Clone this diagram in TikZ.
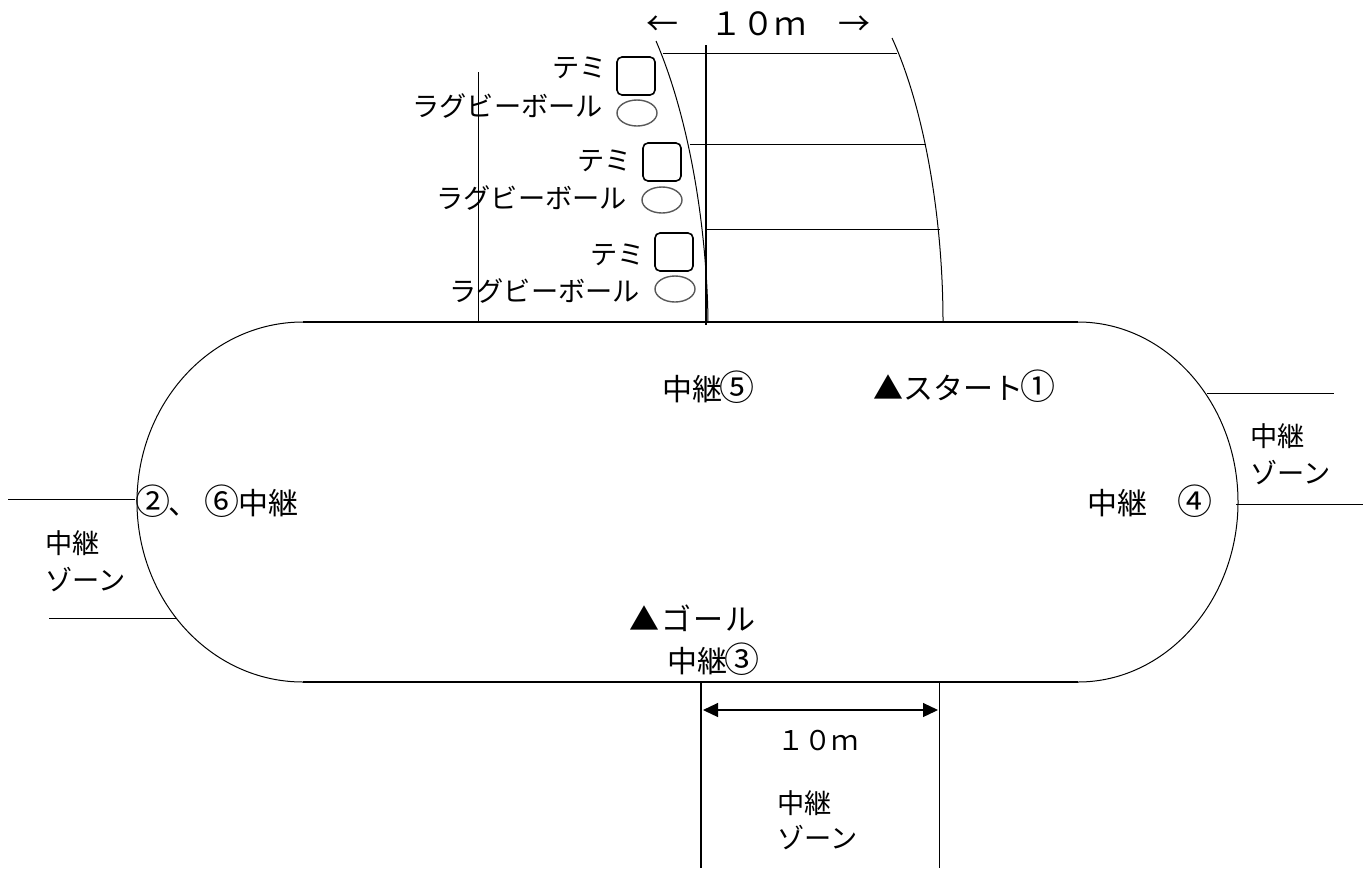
\documentclass[tikz,border=0pt]{standalone}
\usepackage{fontspec}
\setmainfont{Noto Sans CJK JP}
\usepackage{tikz}
\usetikzlibrary{arrows.meta}
\usetikzlibrary{shapes}
\newcommand{\maru}[1]{\makebox[15pt]{\fontsize{17.5}{16}\selectfont #1}}

\begin{document}
\begin{tikzpicture}[
    x=0.5pt, y=-0.5pt,   % one unit is one pixel of the plan
    ]
% ------------------------------------------------- 
\tikzset{
  lab/.style={inner sep=0pt, anchor=west, font=\fontsize{15}{16}\selectfont},
  small/.style={lab, font=\fontsize{13.6}{16}\selectfont},
  person/.style={draw, line width=0.8pt, rounded corners=2.5pt, minimum width=19pt, minimum height=19pt, inner sep=0pt},
  ball/.style={draw=black!65, line width=0.7pt, ellipse, minimum width=20pt, minimum height=13pt, inner sep=0pt},
  line/.style={draw, line width=0.5pt},
  heavy/.style={draw, line width=0.8pt}
}
\useasboundingbox (0,0) rectangle (1369,868);
% track
\coordinate (tl) at (303,322);
\coordinate (tr) at (1078,322);
\coordinate (bl) at (303,682);
\coordinate (br) at (1078,682);
\coordinate (wl) at (137,502);
\coordinate (er) at (1238,502);
\path [heavy] (tl) -- (tr);
\path [heavy] (bl) -- (br);
\path [line] (tl) .. controls (211,322) and (137,403) .. (wl) .. controls (137,601) and (211,682) .. (bl);
\path [line] (tr) .. controls (1166,322) and (1238,403) .. (er) .. controls (1238,601) and (1166,682) .. (br);
% top zone
\coordinate (la) at (656,41);
\coordinate (lb) at (708,322);
\coordinate (ra) at (892,38);
\coordinate (rb) at (943,322);
\path [line] (la) .. controls (690,120) and (707,230) .. (lb);
\path [line] (ra) .. controls (925,110) and (943,220) .. (rb);
\coordinate (h1a) at (663,53);
\coordinate (h1b) at (897,53);
\coordinate (h2a) at (690,144);
\coordinate (h2b) at (926,144);
\coordinate (h3a) at (707,229);
\coordinate (h3b) at (940,229);
\path [line] (h1a) -- (h1b);
\path [line] (h2a) -- (h2b);
\path [line] (h3a) -- (h3b);
\coordinate (ma) at (706,45);
\coordinate (mb) at (706,325);
\path [heavy] (ma) -- (mb);
\coordinate (qa) at (478,72);
\coordinate (qb) at (478,322);
\path [line] (qa) -- (qb);
\node [lab, font=\fontsize{16}{18}\selectfont] (width) at (646,24) {←　１０ｍ　→};
% stations
\node [person] (p1) at (636,76) {};
\node [ball] (b1) at (637,113) {};
\node [person] (p2) at (662,162) {};
\node [ball] (b2) at (662,200) {};
\node [person] (p3) at (674,252) {};
\node [ball] (b3) at (675,289) {};
\node [small] (t1) at (552,68) {テミ};
\node [small] (r1) at (412,106) {ラグビーボール};
\node [small] (t2) at (577,161) {テミ};
\node [small] (r2) at (436,198) {ラグビーボール};
\node [small] (t3) at (590,255) {テミ};
\node [small] (r3) at (449,291) {ラグビーボール};
% relay labels
\node [lab] (c5) at (662,387) {中継\maru{⑤}};
\node [lab] (st) at (873,386) {▲スタート\maru{①}};
\node [lab] (c26) at (138,501) {\maru{②}、\hspace{4.5pt}\maru{⑥}\hspace{0.5pt}中継};
\node [lab] (c4) at (1087,501) {中継　\hspace{1.5pt}\maru{④}};
\node [lab] (go) at (629,618) {▲\hspace{1pt}ゴ\hspace{1pt}ー\hspace{1pt}ル};
\node [lab] (c3) at (667,659) {中継\maru{③}};
% right zone
\coordinate (e1a) at (1207,393);
\coordinate (e1b) at (1334,393);
\coordinate (e2a) at (1236,504);
\coordinate (e2b) at (1363,504);
\path [line] (e1a) -- (e1b);
\path [line] (e2a) -- (e2b);
\node [small] (ze1) at (1250,436) {中継};
\node [small] (ze2) at (1250,473) {ゾーン};
% left zone
\coordinate (w1a) at (8,499);
\coordinate (w1b) at (135,499);
\coordinate (w2a) at (49,618);
\coordinate (w2b) at (176,618);
\path [line] (w1a) -- (w1b);
\path [line] (w2a) -- (w2b);
\node [small] (zw1) at (45,543) {中継};
\node [small] (zw2) at (45,580) {ゾーン};
% bottom zone
\coordinate (s1a) at (701,682);
\coordinate (s1b) at (701,868);
\coordinate (s2a) at (939,682);
\coordinate (s2b) at (939,868);
\path [heavy] (s1a) -- (s1b);
\path [line] (s2a) -- (s2b);
\coordinate (da) at (703,710);
\coordinate (db) at (938,710);
\draw [{Triangle[length=7.5pt,width=7pt]}-{Triangle[length=7.5pt,width=7pt]}, line width=0.6pt] (da) -- (db);
\node [small] (dim) at (777,741) {１０ｍ};
\node [small] (zs1) at (777,803) {中継};
\node [small] (zs2) at (777,838) {ゾーン};
\end{tikzpicture}
\end{document}
